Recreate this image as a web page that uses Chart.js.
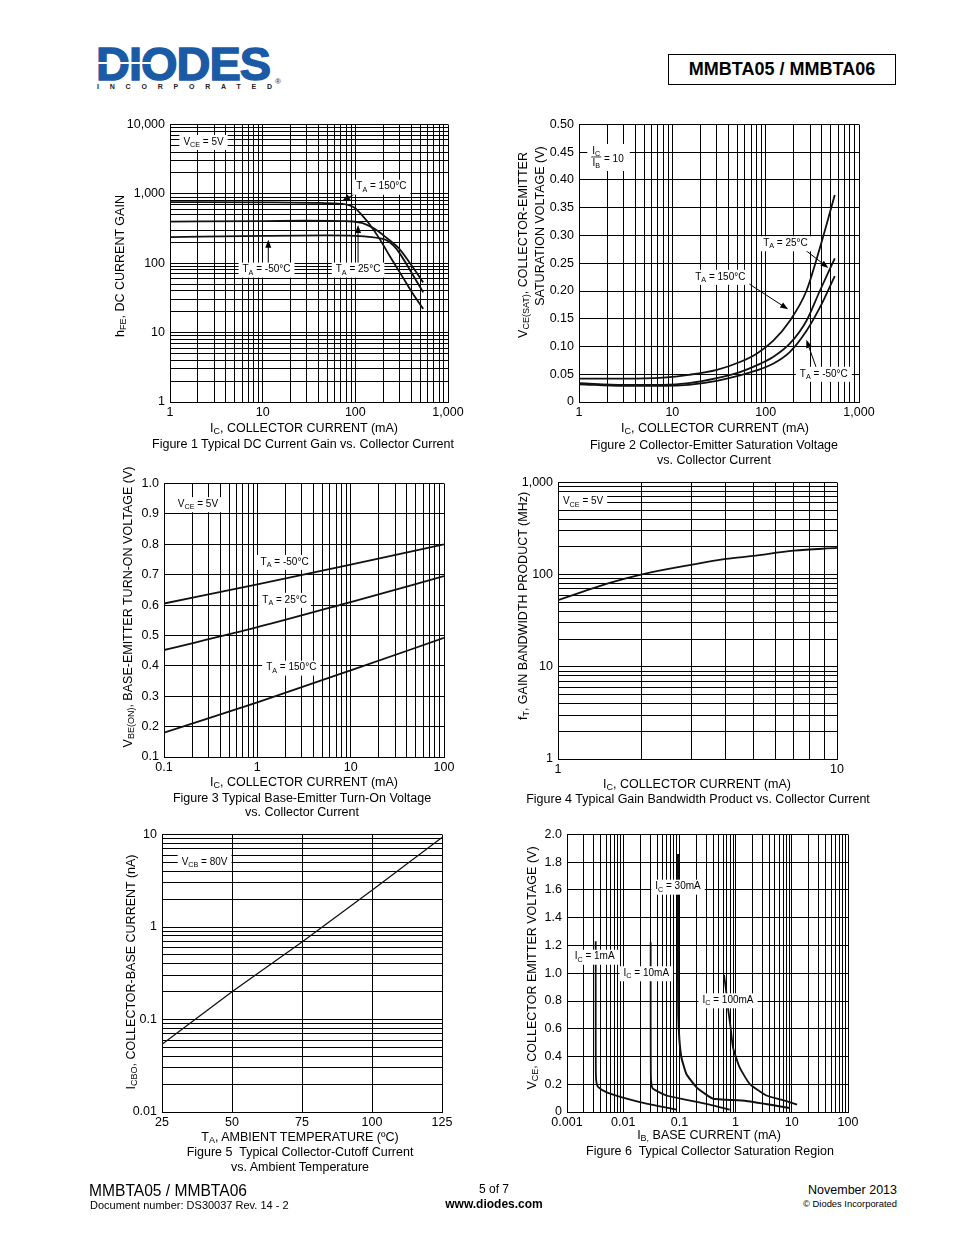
<!DOCTYPE html>
<html>
<head>
<meta charset="utf-8">
<title>MMBTA05 / MMBTA06 typical characteristics</title>
<script src="https://cdn.jsdelivr.net/npm/chart.js@4.4.1/dist/chart.umd.min.js"></script>
<style>
  html, body { margin: 0; padding: 0; background: #fff; }
  body {
    width: 954px; height: 1235px; position: relative; overflow: hidden;
    font-family: Arial, "Liberation Sans", Helvetica, sans-serif; color: #000;
  }
  canvas { position: absolute; }
  .t { position: absolute; white-space: nowrap; font-size: 12.5px; line-height: 1; transform: translate(-50%, -50%); }
  .rot { transform: translate(-50%, -50%) rotate(-90deg); }
  sub { font-size: 72%; vertical-align: -0.3em; line-height: 0; }
  #logo {
    position: absolute; left: 96px; top: 40px; font-size: 47px; font-weight: bold; line-height: 1;
    color: #1b5ba6; letter-spacing: -1px; -webkit-text-stroke: 1.4px #1b5ba6;
  }
  #logoStripe { position: absolute; left: 97px; top: 62px; width: 66px; height: 2px; background: #fff; }
  #inc {
    position: absolute; left: 97px; top: 82.8px; font-size: 7px; font-weight: bold; line-height: 1;
    letter-spacing: 10.8px; color: #222;
  }
  #reg { position: absolute; left: 275px; top: 77px; font-size: 8px; color: #1b5ba6; font-weight: bold; }
  #partBox {
    position: absolute; left: 668px; top: 54px; width: 228px; height: 31px; box-sizing: border-box;
    border: 1.5px solid #000; text-align: center; font-weight: bold; font-size: 18px; line-height: 28px;
  }
  .foot { position: absolute; white-space: nowrap; line-height: 1; }
</style>
</head>
<body>
<div id="logo">DIODES</div>
<div id="logoStripe"></div>
<div id="inc">INCORPORATED</div>
<div id="reg">®</div>
<div id="partBox">MMBTA05 / MMBTA06</div>

<canvas id="fig1"></canvas>
<canvas id="fig2"></canvas>
<canvas id="fig3"></canvas>
<canvas id="fig4"></canvas>
<canvas id="fig5"></canvas>
<canvas id="fig6"></canvas>

<!-- figure 1 -->
<div class="t rot" style="left:120px; top:266px;">h<sub>FE</sub>, DC CURRENT GAIN</div>
<div class="t" style="left:304px; top:428px;">I<sub>C</sub>, COLLECTOR CURRENT (mA)</div>
<div class="t" style="left:303px; top:444px;">Figure 1 Typical DC Current Gain vs. Collector Current</div>
<!-- figure 2 -->
<div class="t rot" style="left:523px; top:245px;">V<sub>CE(SAT)</sub>, COLLECTOR-EMITTER</div>
<div class="t rot" style="left:540px; top:226px;">SATURATION VOLTAGE (V)</div>
<div class="t" style="left:715px; top:428px;">I<sub>C</sub>, COLLECTOR CURRENT (mA)</div>
<div class="t" style="left:714px; top:445px;">Figure 2 Collector-Emitter Saturation Voltage</div>
<div class="t" style="left:714px; top:460px;">vs. Collector Current</div>
<!-- figure 3 -->
<div class="t rot" style="left:128px; top:607px;">V<sub>BE(ON)</sub>, BASE-EMITTER TURN-ON VOLTAGE (V)</div>
<div class="t" style="left:304px; top:782px;">I<sub>C</sub>, COLLECTOR CURRENT (mA)</div>
<div class="t" style="left:302px; top:798px;">Figure 3 Typical Base-Emitter Turn-On Voltage</div>
<div class="t" style="left:302px; top:812px;">vs. Collector Current</div>
<!-- figure 4 -->
<div class="t rot" style="left:523px; top:606px;">f<sub>T</sub>, GAIN BANDWIDTH PRODUCT (MHz)</div>
<div class="t" style="left:697px; top:784px;">I<sub>C</sub>, COLLECTOR CURRENT (mA)</div>
<div class="t" style="left:698px; top:799px;">Figure 4 Typical Gain Bandwidth Product vs. Collector Current</div>
<!-- figure 5 -->
<div class="t rot" style="left:131px; top:972px;">I<sub>CBO</sub>, COLLECTOR-BASE CURRENT (nA)</div>
<div class="t" style="left:300px; top:1137px;">T<sub>A</sub>, AMBIENT TEMPERATURE (ºC)</div>
<div class="t" style="left:300px; top:1152px;">Figure 5&nbsp; Typical Collector-Cutoff Current</div>
<div class="t" style="left:300px; top:1167px;">vs. Ambient Temperature</div>
<!-- figure 6 -->
<div class="t rot" style="left:532px; top:968px;">V<sub>CE</sub>, COLLECTOR EMITTER VOLTAGE (V)</div>
<div class="t" style="left:709px; top:1135px;">I<sub>B,</sub> BASE CURRENT (mA)</div>
<div class="t" style="left:710px; top:1151px;">Figure 6&nbsp; Typical Collector Saturation Region</div>

<!-- footer -->
<div class="foot" style="left:89px; top:1183px; font-size:15.6px;">MMBTA05 / MMBTA06</div>
<div class="foot" style="left:90px; top:1200px; font-size:11px;">Document number: DS30037 Rev. 14 - 2</div>
<div class="foot" style="left:494px; top:1183px; font-size:12px; transform:translateX(-50%);">5 of 7</div>
<div class="foot" style="left:494px; top:1198px; font-size:12px; font-weight:bold; transform:translateX(-50%);">www.diodes.com</div>
<div class="foot" style="right:57px; top:1184px; font-size:12.5px;">November 2013</div>
<div class="foot" style="right:57px; top:1199px; font-size:9.4px;">© Diodes Incorporated</div>

<script>
// ---------- data ----------

// Figure 1: hFE vs IC (mA), VCE = 5V
const fig1Ic150 = [1, 10, 41, 70, 87, 100, 112, 143, 184, 235, 327, 420, 540];
const fig1Hfe150 = [760, 755, 740, 720, 684, 620, 531, 362, 221, 127, 62, 36, 22];
const fig1Ic25 = [1, 10, 30, 70, 95, 120, 143, 180, 217, 300, 400, 540];
const fig1Hfe25 = [398, 405, 410, 405, 400, 380, 343, 285, 233, 160, 95, 53];
const fig1IcM50 = [1, 10, 50, 100, 150, 185, 217, 260, 300, 400, 540];
const fig1HfeM50 = [238, 248, 252, 248, 238, 228, 215, 178, 140, 75, 38];
const fig1XTicks = [1, 10, 100, 1000];
const fig1YTicks = [1, 10, 100, 1000, 10000];

// Figure 2: VCE(SAT) (V) vs IC (mA), IC/IB = 10
const fig2Ic = [1, 3, 8, 15, 30, 53, 80, 120, 181, 273, 380, 550];
const fig2Vce150 = [0.042, 0.042, 0.044, 0.049, 0.058, 0.072, 0.087, 0.11, 0.146, 0.2, 0.277, 0.373];
const fig2Vce25 = [0.034, 0.031, 0.031, 0.034, 0.043, 0.054, 0.066, 0.081, 0.105, 0.146, 0.2, 0.259];
const fig2VceM50 = [0.032, 0.029, 0.029, 0.031, 0.038, 0.048, 0.057, 0.069, 0.09, 0.128, 0.17, 0.227];
const fig2XTicks = [1, 10, 100, 1000];

// Figure 3: VBE(ON) (V) vs IC (mA), VCE = 5V
const fig3Ic = [0.1, 1, 10, 100];
const fig3VbeM50 = [0.605, 0.668, 0.733, 0.8];
const fig3Vbe25 = [0.452, 0.527, 0.61, 0.695];
const fig3Vbe150 = [0.18, 0.28, 0.385, 0.492];
const fig3XTicks = [0.1, 1, 10, 100];

// Figure 4: fT (MHz) vs IC (mA)
const fig4Ic = [1, 1.2, 1.5, 2, 3, 4, 5, 7, 10];
const fig4Ft = [53, 64, 80, 101, 128, 148, 160, 182, 195];
const fig4XTicks = [1, 10];
const fig4YTicks = [1, 10, 100, 1000];

// Figure 5: ICBO (nA) vs TA (C), VCB = 80V
const fig5Temp = [25, 50, 75, 100, 125];
const fig5Icbo = [0.054, 0.2, 0.69, 2.5, 9.3];
const fig5YTicks = [0.01, 0.1, 1, 10];

// Figure 6: VCE (V) vs IB (mA)
const fig6Ib1 = [0.00324, 0.00324, 0.00326, 0.00335, 0.0036, 0.005, 0.0099, 0.0259, 0.0885];
const fig6Vce1 = [1.23, 0.6, 0.28, 0.21, 0.179, 0.143, 0.103, 0.06, 0.017];
const fig6Ib10 = [0.0308, 0.0308, 0.031, 0.0318, 0.0339, 0.0587, 0.133, 0.346, 0.785];
const fig6Vce10 = [1.224, 0.6, 0.27, 0.2, 0.167, 0.119, 0.088, 0.053, 0.017];
const fig6Ib30 = [0.0944, 0.0944, 0.0955, 0.1, 0.1087, 0.133, 0.2, 0.3, 0.396, 1.555, 9];
const fig6Vce30 = [1.86, 1.0, 0.7, 0.52, 0.393, 0.274, 0.179, 0.125, 0.096, 0.079, 0.03];
const fig6Ib100 = [0.622, 0.68, 0.733, 0.82, 0.9, 1.18, 1.78, 3.53, 8.0, 12.4];
const fig6Vce100 = [0.988, 0.87, 0.75, 0.6, 0.464, 0.321, 0.203, 0.119, 0.079, 0.053];
const fig6XTicks = [0.001, 0.01, 0.1, 1, 10, 100];

// ---------- labels and arrows on the plots (data coordinates) ----------
const notes = {
  fig1: {
    arrows: [
      { from: [112, 1100], to: [72, 790] },
      { from: [11.5, 96], to: [11.5, 218] },
      { from: [107, 96], to: [107, 355] },
    ],
    labels: [
      { x: 2.3, y: 5600, text: "V_{CE} = 5V" },
      { x: 191, y: 1267, text: "T_{A} = 150°C" },
      { x: 11, y: 81, text: "T_{A} = -50°C" },
      { x: 107, y: 81, text: "T_{A} = 25°C" },
    ],
  },
  fig2: {
    arrows: [
      { from: [251, 0.277], to: [470, 0.2416] },
      { from: [59.6, 0.218], to: [174, 0.167] },
      { from: [355, 0.058], to: [273, 0.112] },
    ],
    labels: [
      { x: 163, y: 0.286, text: "T_{A} = 25°C" },
      { x: 32.7, y: 0.2255, text: "T_{A} = 150°C" },
      { x: 420, y: 0.0508, text: "T_{A} = -50°C" },
    ],
    fractions: [{ x: 1.53, y: 0.4415, top: "I_{C}", bottom: "I_{B}", rest: " = 10" }],
  },
  fig3: {
    labels: [
      { x: 0.231, y: 0.932, text: "V_{CE} = 5V" },
      { x: 1.96, y: 0.742, text: "T_{A} = -50°C" },
      { x: 1.96, y: 0.617, text: "T_{A} = 25°C" },
      { x: 2.31, y: 0.394, text: "T_{A} = 150°C" },
    ],
  },
  fig4: { labels: [{ x: 1.23, y: 621, text: "V_{CE} = 5V" }] },
  fig5: { labels: [{ x: 40.2, y: 5.05, text: "V_{CB} = 80V" }] },
  fig6: {
    labels: [
      { x: 0.0031, y: 1.119, text: "I_{C} = 1mA" },
      { x: 0.0258, y: 1.0, text: "I_{C} = 10mA" },
      { x: 0.0944, y: 1.624, text: "I_{C} = 30mA" },
      { x: 0.733, y: 0.805, text: "I_{C} = 100mA" },
    ],
  },
};

// ---------- drawing helpers ----------
const FONT = 'Arial, "Liberation Sans", sans-serif';
const NOTE_SIZE = 10;
const M = { left: 60, top: 10, right: 22, bottom: 20 };

Chart.defaults.font.family = FONT;
Chart.defaults.color = "#000";

function fontStr(size) {
  return `${size}px ${FONT}`;
}

function parseRich(text) {
  const parts = [];
  const re = /_\{([^}]*)\}/g;
  let last = 0;
  let m;
  while ((m = re.exec(text))) {
    if (m.index > last) parts.push({ s: text.slice(last, m.index), sub: false });
    parts.push({ s: m[1], sub: true });
    last = re.lastIndex;
  }
  if (last < text.length) parts.push({ s: text.slice(last), sub: false });
  return parts;
}

function richWidth(ctx, parts) {
  return parts.reduce((w, p) => {
    ctx.font = fontStr(p.sub ? NOTE_SIZE * 0.72 : NOTE_SIZE);
    return w + ctx.measureText(p.s).width;
  }, 0);
}

function drawRich(ctx, parts, x, y) {
  ctx.textBaseline = "middle";
  ctx.textAlign = "left";
  ctx.fillStyle = "#000";
  parts.forEach((p) => {
    ctx.font = fontStr(p.sub ? NOTE_SIZE * 0.72 : NOTE_SIZE);
    ctx.fillText(p.s, x, p.sub ? y + NOTE_SIZE * 0.3 : y);
    x += ctx.measureText(p.s).width;
  });
}

function drawLabel(ctx, text, cx, cy) {
  const parts = parseRich(text);
  const w = richWidth(ctx, parts);
  ctx.fillStyle = "#fff";
  ctx.fillRect(cx - w / 2 - 4, cy - 7, w + 8, 15);
  drawRich(ctx, parts, cx - w / 2, cy);
}

function drawFraction(ctx, f, cx, cy) {
  const top = parseRich(f.top);
  const bottom = parseRich(f.bottom);
  const rest = parseRich(f.rest);
  const wTop = richWidth(ctx, top);
  const wBottom = richWidth(ctx, bottom);
  const wRest = richWidth(ctx, rest);
  const barW = Math.max(wTop, wBottom) + 2;
  ctx.fillStyle = "#fff";
  ctx.fillRect(cx - barW / 2 - 4, cy - 13, barW + wRest + 10, 27);
  drawRich(ctx, top, cx - wTop / 2, cy - 6);
  drawRich(ctx, bottom, cx - wBottom / 2, cy + 6);
  ctx.strokeStyle = "#000";
  ctx.lineWidth = 0.8;
  ctx.beginPath();
  ctx.moveTo(cx - barW / 2, cy);
  ctx.lineTo(cx + barW / 2, cy);
  ctx.stroke();
  drawRich(ctx, rest, cx + barW / 2, cy + 2);
}

function drawArrow(ctx, x1, y1, x2, y2) {
  const ang = Math.atan2(y2 - y1, x2 - x1);
  const len = 8;
  const half = 3;
  ctx.strokeStyle = "#000";
  ctx.fillStyle = "#000";
  ctx.lineWidth = 1;
  ctx.beginPath();
  ctx.moveTo(x1, y1);
  ctx.lineTo(x2 - Math.cos(ang) * len * 0.8, y2 - Math.sin(ang) * len * 0.8);
  ctx.stroke();
  ctx.beginPath();
  ctx.moveTo(x2, y2);
  ctx.lineTo(x2 - len * Math.cos(ang) + half * Math.sin(ang), y2 - len * Math.sin(ang) - half * Math.cos(ang));
  ctx.lineTo(x2 - len * Math.cos(ang) - half * Math.sin(ang), y2 - len * Math.sin(ang) + half * Math.cos(ang));
  ctx.closePath();
  ctx.fill();
}

const notesPlugin = {
  id: "notes",
  afterDatasetsDraw(chart) {
    const n = notes[chart.canvas.id];
    if (!n) return;
    const ctx = chart.ctx;
    const xs = chart.scales.x;
    const ys = chart.scales.y;
    ctx.save();
    (n.arrows || []).forEach((a) => {
      drawArrow(
        ctx,
        xs.getPixelForValue(a.from[0]), ys.getPixelForValue(a.from[1]),
        xs.getPixelForValue(a.to[0]), ys.getPixelForValue(a.to[1]),
      );
    });
    (n.labels || []).forEach((l) => {
      drawLabel(ctx, l.text, xs.getPixelForValue(l.x), ys.getPixelForValue(l.y));
    });
    (n.fractions || []).forEach((f) => {
      drawFraction(ctx, f, xs.getPixelForValue(f.x), ys.getPixelForValue(f.y));
    });
    ctx.restore();
  },
};

// grid lines at 1..9 of every decade
function logGridValues(min, max) {
  const out = [];
  const e0 = Math.round(Math.log10(min));
  const e1 = Math.round(Math.log10(max));
  for (let e = e0; e < e1; e++) {
    for (let m = 1; m < 10; m++) out.push(+(m * Math.pow(10, e)).toPrecision(6));
  }
  out.push(max);
  return out;
}

function axisBase(isY) {
  return {
    grid: { color: "#000", lineWidth: 1, drawTicks: false },
    border: { color: "#000", width: 1 },
    ticks: {
      color: "#000",
      font: { size: 12.5 },
      padding: isY ? 5 : 3,
      autoSkip: false,
      maxRotation: 0,
      minRotation: 0,
    },
    afterFit: (s) => {
      if (isY) s.width = M.left;
      else s.height = M.bottom;
    },
  };
}

function logAxis(isY, min, max, labelValues, fmt) {
  const a = axisBase(isY);
  const grid = logGridValues(min, max);
  a.type = "logarithmic";
  a.min = min;
  a.max = max;
  a.afterBuildTicks = (s) => {
    s.ticks = grid.map((v) => ({ value: v }));
  };
  a.ticks.callback = (v) => {
    const hit = labelValues.find((l) => Math.abs(v / l - 1) < 1e-6);
    return hit === undefined ? "" : fmt(hit);
  };
  return a;
}

function linAxis(isY, min, max, step, fmt) {
  const a = axisBase(isY);
  a.type = "linear";
  a.min = min;
  a.max = max;
  a.ticks.stepSize = step;
  a.ticks.maxTicksLimit = 100;
  a.ticks.callback = (v) => fmt(v);
  return a;
}

const thousands = (v) => v.toLocaleString("en-US");
const plain = (v) => String(v);

function serie(xs, ys, opts = {}) {
  return {
    data: xs.map((x, i) => ({ x, y: ys[i] })),
    showLine: true,
    borderColor: "#111",
    borderWidth: opts.width || 1.8,
    pointRadius: 0,
    pointHoverRadius: 0,
    fill: false,
    tension: opts.tension || 0,
    cubicInterpolationMode: opts.mode || "default",
  };
}

function makeChart(id, area, xAxis, yAxis, datasets) {
  const canvas = document.getElementById(id);
  const w = area.right - area.left + M.left + M.right;
  const h = area.bottom - area.top + M.top + M.bottom;
  canvas.width = w;
  canvas.height = h;
  canvas.style.width = w + "px";
  canvas.style.height = h + "px";
  canvas.style.left = area.left - M.left + "px";
  canvas.style.top = area.top - M.top + "px";

  return new Chart(canvas, {
    type: "scatter",
    data: { datasets },
    options: {
      responsive: false,
      animation: false,
      events: [],
      layout: { padding: { top: M.top, right: M.right, left: 0, bottom: 0 } },
      plugins: { legend: { display: false }, tooltip: { enabled: false } },
      scales: { x: xAxis, y: yAxis },
    },
    plugins: [notesPlugin],
  });
}

// ---------- the six figures ----------
const smooth = { mode: "monotone" };

makeChart(
  "fig1",
  { left: 170, top: 122, right: 448, bottom: 402 },
  logAxis(false, 1, 1000, fig1XTicks, thousands),
  logAxis(true, 1, 10000, fig1YTicks, thousands),
  [
    serie(fig1Ic150, fig1Hfe150, smooth),
    serie(fig1Ic25, fig1Hfe25, smooth),
    serie(fig1IcM50, fig1HfeM50, smooth),
  ],
);

makeChart(
  "fig2",
  { left: 579, top: 122, right: 859, bottom: 402 },
  logAxis(false, 1, 1000, fig2XTicks, thousands),
  linAxis(true, 0, 0.5, 0.05, (v) => (v === 0 ? "0" : v.toFixed(2))),
  [
    serie(fig2Ic, fig2Vce150, smooth),
    serie(fig2Ic, fig2Vce25, smooth),
    serie(fig2Ic, fig2VceM50, smooth),
  ],
);

makeChart(
  "fig3",
  { left: 164, top: 481, right: 444, bottom: 757 },
  logAxis(false, 0.1, 100, fig3XTicks, plain),
  linAxis(true, 0.1, 1.0, 0.1, (v) => v.toFixed(1)),
  [
    serie(fig3Ic, fig3VbeM50, smooth),
    serie(fig3Ic, fig3Vbe25, smooth),
    serie(fig3Ic, fig3Vbe150, smooth),
  ],
);

makeChart(
  "fig4",
  { left: 558, top: 480, right: 837, bottom: 759 },
  logAxis(false, 1, 10, fig4XTicks, plain),
  logAxis(true, 1, 1000, fig4YTicks, thousands),
  [serie(fig4Ic, fig4Ft, smooth)],
);

makeChart(
  "fig5",
  { left: 162, top: 832, right: 442, bottom: 1112 },
  linAxis(false, 25, 125, 25, plain),
  logAxis(true, 0.01, 10, fig5YTicks, plain),
  [serie(fig5Temp, fig5Icbo, { width: 1.3 })],
);

makeChart(
  "fig6",
  { left: 567, top: 832, right: 848, bottom: 1112 },
  logAxis(false, 0.001, 100, fig6XTicks, plain),
  linAxis(true, 0, 2.0, 0.2, (v) => (v === 0 ? "0" : v.toFixed(1))),
  [
    serie(fig6Ib1, fig6Vce1, { tension: 0.15 }),
    serie(fig6Ib10, fig6Vce10, { tension: 0.15 }),
    serie(fig6Ib30, fig6Vce30, { tension: 0.15, width: 2 }),
    serie(fig6Ib100, fig6Vce100, { tension: 0.15 }),
  ],
);
</script>
</body>
</html>
